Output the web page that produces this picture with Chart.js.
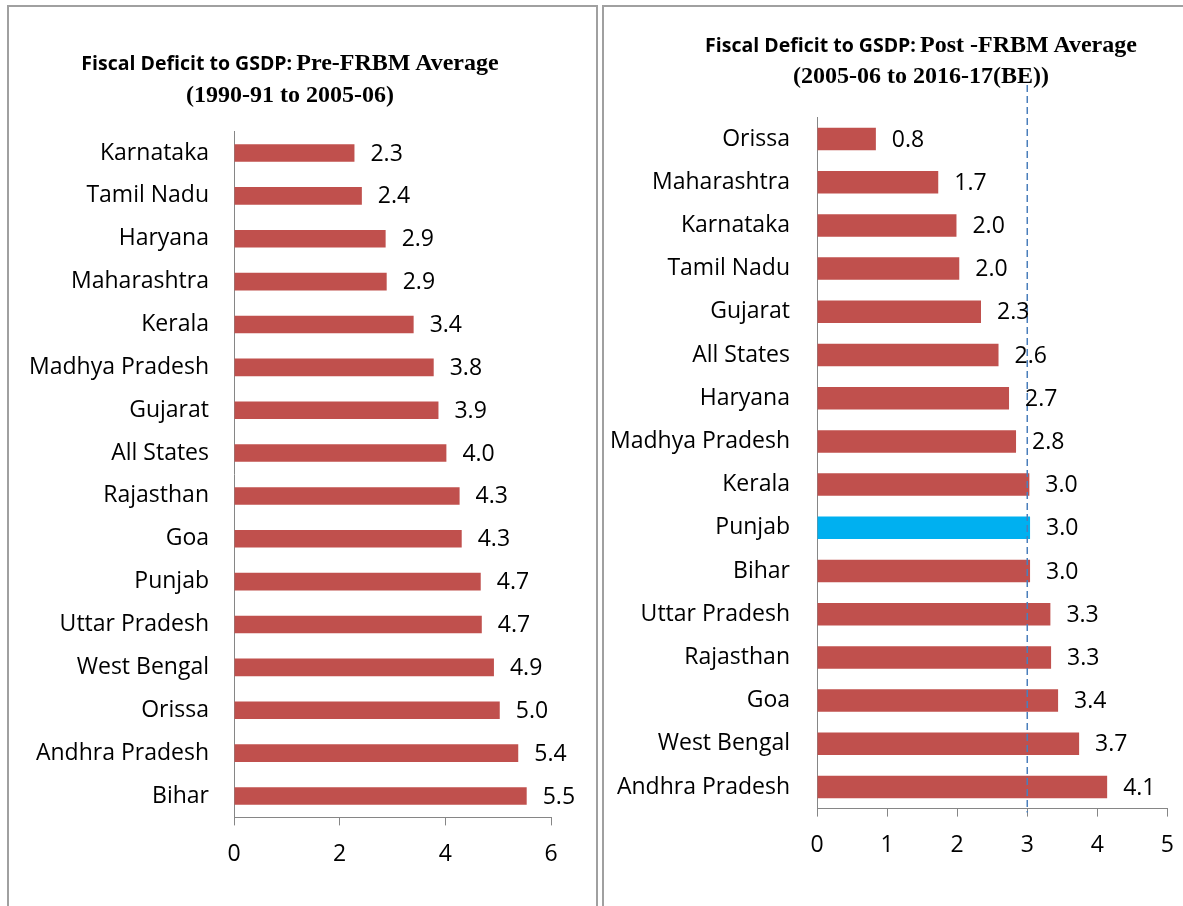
<!DOCTYPE html>
<html lang="en">
<head>
  <meta charset="UTF-8">
  <title>Fiscal Deficit to GSDP: Pre-FRBM and Post-FRBM Average</title>
  <script src="https://cdn.jsdelivr.net/npm/chart.js@4.4.0/dist/chart.umd.min.js"></script>
  <style>
    body {
      margin: 0;
      width: 1183px;
      height: 906px;
      overflow: hidden;
      background: #fff;
      position: relative;
      font-family: 'Open Sans', sans-serif;
    }
    .panel {
      position: absolute;
      border: 2px solid #a0a0a0;
      box-sizing: border-box;
    }
    #leftPanel { left: 7px; top: 5px; width: 591px; height: 960px; }
    #rightPanel { left: 602px; top: 5px; width: 640px; height: 960px; }
    .box {
      position: absolute;
      top: 10px;
      height: 896px;
    }
    #leftBox { left: 10px; width: 580px; }
    #rightBox { left: 606px; width: 583px; }
    .title {
      position: absolute;
      width: 600px;
      text-align: center;
      font-weight: bold;
      color: #000;
      white-space: nowrap;
      z-index: 2;
    }
    .title .sans { font-family: 'Open Sans', sans-serif; font-size: 19.5px; }
    .title .serif { font-family: 'Liberation Serif', 'Times New Roman', serif; font-size: 24px; }
    #leftTitle { left: -10px; top: 47px; line-height: 30px; }
    #rightTitle { left: 621px; top: 30px; line-height: 29px; }
  </style>
</head>
<body>
  <div class="panel" id="leftPanel"></div>
  <div class="panel" id="rightPanel"></div>
  <div class="box" id="leftBox"><canvas id="preChart"></canvas></div>
  <div class="box" id="rightBox"><canvas id="postChart"></canvas></div>
  <div class="title" id="leftTitle">
    <span class="sans">Fiscal Deficit to GSDP:</span> <span class="serif">Pre-FRBM Average</span><br>
    <span class="serif">(1990-91 to 2005-06)</span>
  </div>
  <div class="title" id="rightTitle">
    <span class="sans">Fiscal Deficit to GSDP:</span> <span class="serif">Post -FRBM Average</span><br>
    <span class="serif">(2005-06 to 2016-17(BE))</span>
  </div>
  <script>
    // Pre-FRBM (1990-91 to 2005-06)
    const preStates = ['Karnataka', 'Tamil Nadu', 'Haryana', 'Maharashtra', 'Kerala', 'Madhya Pradesh',
      'Gujarat', 'All States', 'Rajasthan', 'Goa', 'Punjab', 'Uttar Pradesh', 'West Bengal', 'Orissa',
      'Andhra Pradesh', 'Bihar'];
    const preValues = [2.28, 2.42, 2.87, 2.89, 3.40, 3.78, 3.87, 4.02, 4.27, 4.31, 4.67, 4.69, 4.92, 5.03, 5.38, 5.54];
    const preTicks = [0, 2, 4, 6];

    // Post-FRBM (2005-06 to 2016-17 BE)
    const postStates = ['Orissa', 'Maharashtra', 'Karnataka', 'Tamil Nadu', 'Gujarat', 'All States', 'Haryana',
      'Madhya Pradesh', 'Kerala', 'Punjab', 'Bihar', 'Uttar Pradesh', 'Rajasthan', 'Goa', 'West Bengal',
      'Andhra Pradesh'];
    const postValues = [0.84, 1.73, 1.99, 2.03, 2.34, 2.59, 2.74, 2.84, 3.03, 3.04, 3.04, 3.33, 3.34, 3.44, 3.74, 4.14];
    const postTicks = [0, 1, 2, 3, 4, 5];
    const highlightState = 'Punjab';
    const benchmark = 3;

    const red = '#C0504D';
    const blue = '#00B0F0';
    const axisGray = '#868686';
    const labelFont = { family: "'Open Sans', sans-serif", size: 23 };

    // numbers at the end of each bar
    const valueLabels = {
      id: 'valueLabels',
      afterDatasetsDraw(chart) {
        const ctx = chart.ctx;
        const meta = chart.getDatasetMeta(0);
        const data = chart.data.datasets[0].data;
        ctx.save();
        ctx.font = "23px 'Open Sans', sans-serif";
        ctx.fillStyle = '#000';
        ctx.textBaseline = 'middle';
        ctx.textAlign = 'left';
        meta.data.forEach((bar, i) => {
          ctx.fillText(data[i].toFixed(1), bar.x + 16, bar.y + 1);
        });
        ctx.restore();
      }
    };

    // dashed reference line (all-states benchmark) on the post chart
    const benchmarkLine = {
      id: 'benchmarkLine',
      afterDatasetsDraw(chart) {
        const ctx = chart.ctx;
        const x = chart.scales.x.getPixelForValue(benchmark);
        ctx.save();
        ctx.strokeStyle = '#4A7EBB';
        ctx.lineWidth = 1.5;
        ctx.setLineDash([7, 4]);
        ctx.beginPath();
        ctx.moveTo(x, 75);
        ctx.lineTo(x, chart.chartArea.bottom + 4);
        ctx.stroke();
        ctx.restore();
      }
    };

    function makeChart(id, states, values, ticks, colors, opts) {
      return new Chart(document.getElementById(id), {
        type: 'bar',
        data: {
          labels: states,
          datasets: [{
            data: values,
            backgroundColor: colors,
            borderWidth: 0,
            barPercentage: opts.barPct,
            categoryPercentage: 1
          }]
        },
        plugins: opts.plugins,
        options: {
          indexAxis: 'y',
          responsive: true,
          maintainAspectRatio: false,
          animation: false,
          layout: { padding: opts.padding },
          plugins: {
            legend: { display: false },
            tooltip: { enabled: false }
          },
          scales: {
            x: {
              min: 0,
              max: ticks[ticks.length - 1],
              afterBuildTicks: (scale) => { scale.ticks = ticks.map(v => ({ value: v })); },
              afterFit: (scale) => { scale.height = 50; },
              grid: { display: true, drawOnChartArea: false, drawTicks: true, tickLength: 8, color: axisGray },
              border: { display: true, color: axisGray, width: 1 },
              ticks: { color: '#000', font: labelFont, padding: 15, maxRotation: 0 }
            },
            y: {
              afterFit: (scale) => { scale.width = opts.yWidth; },
              grid: { display: false, drawTicks: false },
              border: { display: true, color: axisGray, width: 1 },
              ticks: { color: '#000', font: labelFont, padding: opts.yPad, autoSkip: false }
            }
          }
        }
      });
    }

    makeChart('preChart', preStates, preValues, preTicks, preStates.map(() => red), {
      barPct: 0.41,
      padding: { top: 121.6, right: 39, bottom: 38.6, left: 0 },
      yWidth: 224,
      yPad: 25,
      plugins: [valueLabels]
    });

    makeChart('postChart', postStates, postValues, postTicks,
      postStates.map(s => s === highlightState ? blue : red), {
      barPct: 0.52,
      padding: { top: 107.4, right: 17, bottom: 47.4, left: 0 },
      yWidth: 211,
      yPad: 27,
      plugins: [benchmarkLine, valueLabels]
    });
  </script>
</body>
</html>
